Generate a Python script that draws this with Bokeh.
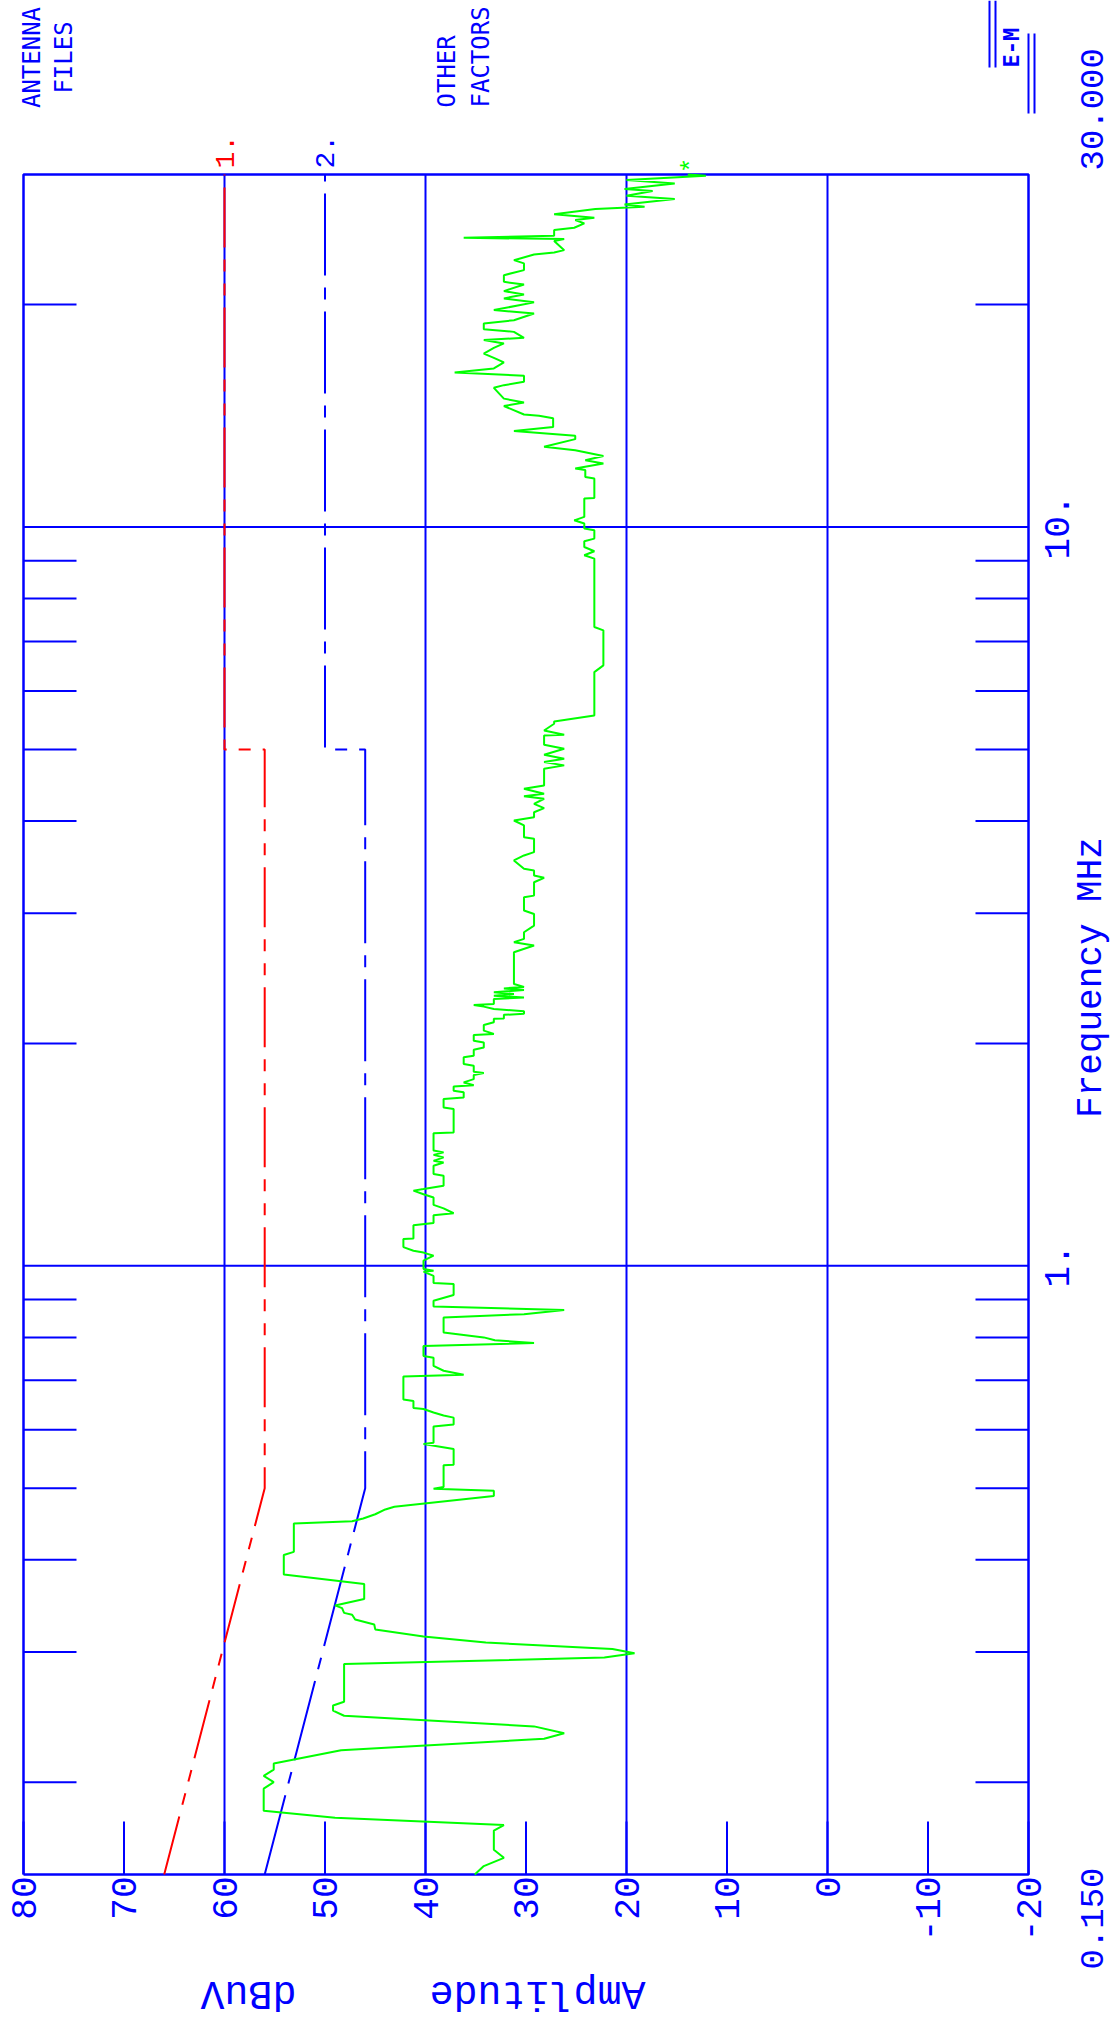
import math
from bokeh.plotting import figure
from bokeh.models import Range1d
from bokeh.core.properties import value
from bokeh.embed import file_html
from bokeh.resources import INLINE

# ---------------- data ----------------
freq_mhz = [0.150, 0.154, 0.158, 0.162, 0.172, 0.175, 0.179, 0.183, 0.196, 0.200,
            0.204, 0.208, 0.212, 0.221, 0.229, 0.233, 0.238, 0.246, 0.250, 0.254,
            0.257, 0.289, 0.295, 0.299, 0.303, 0.309, 0.315, 0.322, 0.327, 0.332,
            0.337, 0.339, 0.344, 0.347, 0.354, 0.371, 0.382, 0.406, 0.410, 0.448,
            0.451, 0.455, 0.461, 0.468, 0.472, 0.488, 0.496, 0.499, 0.502, 0.537,
            0.538, 0.565, 0.574, 0.576, 0.606, 0.610, 0.623, 0.627, 0.633, 0.640,
            0.642, 0.656, 0.659, 0.708, 0.712, 0.721, 0.732, 0.751, 0.755, 0.779,
            0.786, 0.793, 0.800, 0.812, 0.851, 0.860, 0.871, 0.881, 0.897, 0.913,
            0.945, 0.948, 0.969, 0.982, 0.985, 0.990, 1.016, 1.032, 1.042, 1.048,
            1.060, 1.087, 1.089, 1.135, 1.143, 1.171, 1.178, 1.196, 1.209, 1.237,
            1.250, 1.264, 1.270, 1.283, 1.324, 1.331, 1.366, 1.380, 1.387, 1.402,
            1.413, 1.424, 1.432, 1.512, 1.515, 1.630, 1.638, 1.682, 1.690, 1.717,
            1.726, 1.749, 1.756, 1.771, 1.789, 1.812, 1.824, 1.831, 1.866, 1.875,
            1.915, 1.925, 1.961, 1.975, 2.006, 2.017, 2.053, 2.060, 2.081, 2.118,
            2.136, 2.159, 2.162, 2.186, 2.193, 2.211, 2.227, 2.243, 2.255, 2.261,
            2.297, 2.307, 2.321, 2.333, 2.345, 2.362, 2.374, 2.385, 2.407, 2.657,
            2.713, 2.741, 2.770, 2.828, 2.887, 2.994, 3.026, 3.154, 3.170, 3.305,
            3.351, 3.375, 3.428, 3.446, 3.537, 3.593, 3.630, 3.706, 3.784, 3.803,
            3.945, 4.006, 4.048, 4.111, 4.163, 4.220, 4.287, 4.322, 4.354, 4.423,
            4.468, 4.707, 4.757, 4.806, 4.857, 4.918, 5.011, 5.074, 5.223, 5.232,
            5.304, 5.416, 5.455, 5.559, 6.362, 6.497, 7.246, 7.321, 9.062, 9.156,
            9.271, 9.396, 9.563, 9.645, 9.897, 9.950, 10.11, 10.21, 10.32, 10.93,
            10.95, 11.63, 11.69, 11.94, 12.00, 12.19, 12.31, 12.48, 12.70, 12.84,
            13.15, 13.29, 13.49, 13.66, 14.03, 14.14, 14.20, 14.58, 14.74, 14.92,
            15.43, 15.56, 15.72, 16.02, 16.19, 16.39, 16.70, 16.94, 17.17, 17.48,
            17.72, 17.91, 18.03, 18.37, 18.52, 18.86, 19.05, 19.45, 19.66, 20.14,
            20.39, 20.64, 20.86, 21.29, 21.47, 21.92, 22.27, 22.74, 22.97, 23.38,
            23.53, 23.70, 24.38, 24.53, 24.63, 24.79, 25.23, 25.41, 25.76, 26.03,
            26.22, 26.50, 26.94, 27.13, 27.33, 27.79, 28.08, 28.49, 28.67, 29.18,
            29.49, 29.88, 30.00]
level_dbuv = [35.1, 34.2, 32.2, 33.2, 33.2, 32.2, 49.0, 56.1, 56.1, 55.1,
              56.1, 55.1, 55.1, 48.4, 28.2, 26.2, 29.2, 48.1, 49.2, 49.2,
              48.1, 48.1, 22.2, 19.2, 21.4, 34.0, 40.2, 45.0, 45.1, 47.0,
              47.3, 48.1, 48.3, 49.0, 46.1, 46.1, 54.1, 54.1, 53.1, 53.1,
              47.3, 46.2, 45.0, 44.0, 43.1, 33.2, 33.2, 39.2, 38.2, 38.2,
              37.2, 37.2, 40.2, 39.2, 39.2, 37.2, 37.2, 38.2, 39.2, 40.2,
              41.2, 41.2, 42.2, 42.2, 36.2, 38.2, 39.2, 39.2, 40.2, 40.2,
              29.2, 33.1, 34.2, 38.2, 38.2, 30.2, 26.2, 39.2, 39.2, 37.2,
              37.2, 39.2, 39.2, 40.2, 39.2, 40.2, 40.2, 39.2, 40.2, 41.2,
              42.2, 42.2, 41.2, 41.2, 39.2, 39.2, 37.2, 38.2, 39.2, 39.2,
              40.2, 41.2, 40.2, 38.2, 38.2, 39.2, 39.2, 38.2, 39.2, 38.2,
              39.2, 38.2, 39.2, 39.2, 37.2, 37.2, 38.2, 38.2, 36.2, 36.2,
              37.2, 37.2, 35.2, 36.2, 35.2, 35.2, 34.2, 35.2, 35.2, 36.2,
              36.2, 35.2, 35.2, 34.2, 34.2, 35.2, 35.2, 33.2, 34.2, 34.2,
              33.2, 33.2, 32.2, 32.2, 30.2, 30.2, 33.2, 34.2, 35.2, 33.2,
              33.2, 30.2, 33.2, 31.2, 33.2, 30.2, 32.2, 30.2, 31.2, 31.2,
              29.2, 31.2, 30.2, 30.2, 29.2, 29.2, 30.2, 30.2, 29.2, 29.2,
              28.2, 29.2, 29.2, 30.2, 31.2, 30.2, 29.2, 29.2, 29.2, 30.2,
              30.2, 31.2, 29.2, 29.2, 28.2, 29.2, 28.2, 30.2, 28.2, 30.2,
              28.2, 28.2, 26.2, 28.2, 26.2, 28.2, 26.2, 28.2, 28.2, 26.2,
              28.2, 27.2, 27.2, 23.2, 23.2, 22.3, 22.3, 23.2, 23.2, 24.2,
              23.2, 24.2, 24.2, 23.2, 23.2, 24.2, 24.2, 25.2, 24.2, 24.2,
              23.2, 23.2, 24.1, 24.1, 25.1, 22.3, 24.1, 22.3, 25.1, 28.2,
              25.1, 25.1, 31.2, 27.3, 27.3, 28.7, 30.2, 32.2, 30.2, 32.2,
              33.2, 32.2, 30.2, 30.2, 37.1, 33.2, 32.2, 33.2, 34.2, 33.2,
              32.2, 34.2, 30.2, 31.2, 34.2, 34.2, 31.2, 29.2, 33.2, 29.2,
              32.2, 30.2, 32.2, 30.2, 32.2, 32.2, 30.2, 30.2, 31.2, 29.2,
              27.2, 26.2, 27.2, 26.2, 36.2, 27.2, 27.2, 25.2, 24.2, 25.1,
              23.2, 27.2, 23.1, 18.2, 20.2, 15.2, 20.0, 17.4, 20.2, 15.2,
              20.0, 12.1, 13.9]

limit1_freq = [0.15, 0.5, 5.0, 5.0, 30.0]
limit1_dbuv = [66.0, 56.0, 56.0, 60.0, 60.0]
limit2_freq = [0.15, 0.5, 5.0, 5.0, 30.0]
limit2_dbuv = [56.0, 46.0, 46.0, 50.0, 50.0]

amp_ticks = [80, 70, 60, 50, 40, 30, 20, 10, 0, -10, -20]
amp_tick_labels = ["80", "70", "60", "50", "40", "30", "20", "10", "0", "-10", "-20"]
amp_grid = [60, 40, 20, 0]
freq_ticks = [0.2, 0.3, 0.4, 0.5, 0.6, 0.7, 0.8, 0.9, 2, 3, 4, 5, 6, 7, 8, 9, 20]
freq_grid = [1, 10]
freq_grid_labels = ["1.", "10."]
freq_start_label = "0.150"
freq_stop_label = "30.000"

AMP_MAX, AMP_MIN = 80.0, -20.0
F_MIN, F_MAX = 0.15, 30.0

BLUE = "#0000FF"
RED = "#FF0000"
GREEN = "#00FF00"
MONO = "Liberation Mono"
HEAD = "DejaVu Sans Mono"

# ---------------- layout (page pixels) ----------------
W, H = 1111, 2017
FRAME_L, FRAME_R, FRAME_T, FRAME_B = 23, 1028, 174, 1874
TICK = 53
PX_PER_DB = (FRAME_R - FRAME_L) / (AMP_MAX - AMP_MIN)
PX_PER_DEC = (FRAME_B - FRAME_T) / math.log10(F_MAX / F_MIN)


def amp_at(px):
    return AMP_MAX - (px - FRAME_L) / PX_PER_DB


def freq_at(py):
    return F_MIN * 10 ** ((FRAME_B - py) / PX_PER_DEC)


p = figure(width=W, height=H,
           x_range=Range1d(amp_at(0), amp_at(W)),
           y_range=Range1d(freq_at(H), freq_at(0)),
           y_axis_type="log", x_axis_location=None, y_axis_location=None,
           output_backend="svg", toolbar_location=None,
           min_border=0, min_border_left=0, min_border_right=0,
           min_border_top=0, min_border_bottom=0)
p.background_fill_color = "white"
p.border_fill_color = "white"
p.outline_line_color = None
p.grid.visible = False

# grid lines
p.segment(x0=amp_grid, y0=[F_MIN] * len(amp_grid), x1=amp_grid, y1=[F_MAX] * len(amp_grid),
          line_color=BLUE, line_width=2)
p.segment(x0=[AMP_MAX] * len(freq_grid), y0=freq_grid, x1=[AMP_MIN] * len(freq_grid), y1=freq_grid,
          line_color=BLUE, line_width=2)

# amplitude ticks (inward from bottom edge)
f_tick_end = freq_at(FRAME_B - TICK)
p.segment(x0=amp_ticks, y0=[F_MIN] * len(amp_ticks), x1=amp_ticks, y1=[f_tick_end] * len(amp_ticks),
          line_color=BLUE, line_width=2)
# frequency ticks (inward from left and right edges)
a_left = amp_at(FRAME_L + TICK)
a_right = amp_at(FRAME_R - TICK)
p.segment(x0=[AMP_MAX] * len(freq_ticks), y0=freq_ticks, x1=[a_left] * len(freq_ticks), y1=freq_ticks,
          line_color=BLUE, line_width=2)
p.segment(x0=[AMP_MIN] * len(freq_ticks), y0=freq_ticks, x1=[a_right] * len(freq_ticks), y1=freq_ticks,
          line_color=BLUE, line_width=2)

# frame
p.line([AMP_MAX, AMP_MIN, AMP_MIN, AMP_MAX, AMP_MAX], [F_MIN, F_MIN, F_MAX, F_MAX, F_MIN],
       line_color=BLUE, line_width=2.5)

# limit lines
p.line(limit1_dbuv, limit1_freq, line_color=RED, line_width=2, line_dash="60 12 12 12 12 12")
p.line(limit2_dbuv, limit2_freq, line_color=BLUE, line_width=2, line_dash="82 12 12 12")
# measured trace
p.line(level_dbuv, freq_mhz, line_color=GREEN, line_width=2)

UP = math.pi / 2


def txt(texts, xs, ys, angle, align, size, color=BLUE, style="normal", font=MONO):
    p.text(x=xs, y=ys, text=texts, angle=angle, text_align=align,
           text_baseline="middle", text_font=value(font), text_font_size=value(f"{size}px"),
           text_color=color, text_font_style=style)


# amplitude tick labels below the frame
txt(amp_tick_labels, amp_ticks, [freq_at(FRAME_B + 2)] * len(amp_ticks), UP, "right", 36)

# frequency labels on the right
txt(freq_grid_labels, [amp_at(1056)] * len(freq_grid), freq_grid, UP, "center", 36)
txt([freq_stop_label], [amp_at(1091)], [freq_at(FRAME_T - 4)], UP, "left", 34)
txt([freq_start_label], [amp_at(1091)], [freq_at(FRAME_B - 7)], UP, "right", 34)
txt(["Frequency MHz"], [amp_at(1091)], [freq_at(977)], UP, "center", 36)

# amplitude axis title (upside down)
txt(["Amplitude"], [amp_at(537)], [freq_at(1992)], math.pi, "center", 40)
txt(["dBuV"], [amp_at(248)], [freq_at(1992)], math.pi, "center", 40)

# trace labels at the top of the frame
txt(["1."], [limit1_dbuv[-1]], [freq_at(FRAME_T - 6)], UP, "left", 28, color=RED)
txt(["2."], [limit2_dbuv[-1]], [freq_at(FRAME_T - 6)], UP, "left", 28)
txt(["*"], [amp_at(691)], [freq_at(165)], UP, "center", 26, color=GREEN)

# header texts
txt(["ANTENNA"], [amp_at(31)], [freq_at(57)], UP, "center", 24, font=HEAD)
txt(["FILES"], [amp_at(63)], [freq_at(57)], UP, "center", 24, font=HEAD)
txt(["OTHER"], [amp_at(446)], [freq_at(107)], UP, "left", 24, font=HEAD)
txt(["FACTORS"], [amp_at(480)], [freq_at(107)], UP, "left", 24, font=HEAD)
txt(["E-M"], [amp_at(1011)], [freq_at(67)], UP, "left", 22, style="bold", font=HEAD)

# E-M logo bars
logo_x = [amp_at(989), amp_at(995), amp_at(1028), amp_at(1034)]
logo_y0 = [freq_at(67), freq_at(67), freq_at(113), freq_at(113)]
logo_y1 = [freq_at(0), freq_at(0), freq_at(33), freq_at(33)]
p.segment(x0=logo_x, y0=logo_y0, x1=logo_x, y1=logo_y1, line_color=BLUE, line_width=2)

open("out.html", "w").write(file_html(p, INLINE))
